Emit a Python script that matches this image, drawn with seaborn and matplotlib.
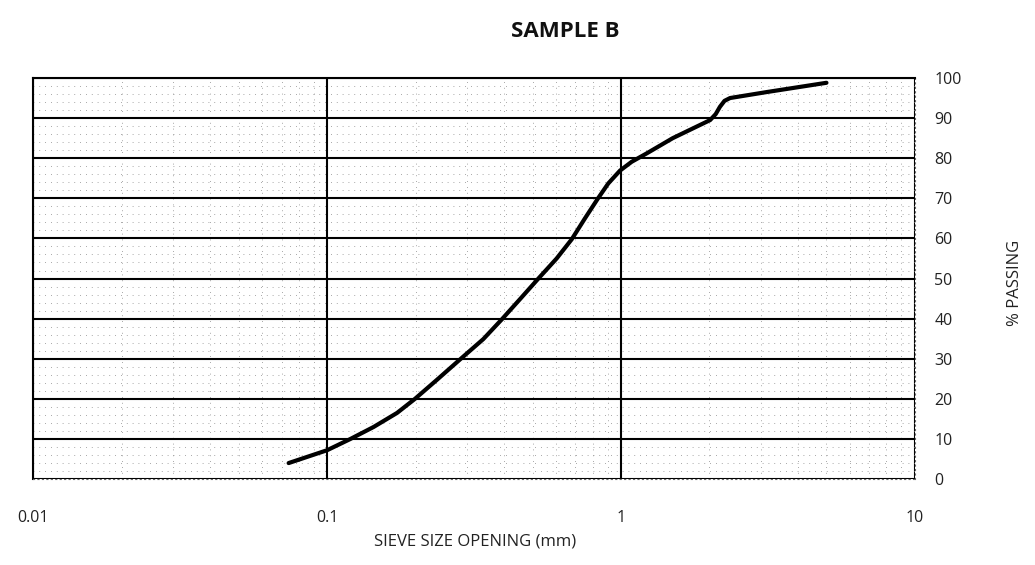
import numpy as np
import pandas as pd
import seaborn as sns
import matplotlib
matplotlib.use("Agg")
import matplotlib.pyplot as plt
from matplotlib.ticker import FixedLocator, LogLocator, NullFormatter, MultipleLocator

# values
sieve_mm = [0.074, 0.1, 0.12, 0.144, 0.173, 0.199, 0.236, 0.283, 0.34,
            0.394, 0.455, 0.522, 0.604, 0.68, 0.754, 0.831, 0.905, 0.992,
            1.087, 1.223, 1.5, 2.01, 2.1, 2.17, 2.25, 2.35, 3.14, 5.0]
passing = [4.0, 7.2, 10.0, 13.0, 16.5, 20.0, 24.7, 29.8, 34.9,
           39.9, 45.0, 49.9, 55.0, 59.8, 65.0, 69.75, 73.7, 76.9,
           79.1, 81.2, 85.0, 89.5, 91.0, 92.8, 94.3, 95.0, 96.5, 98.8]
x_ticks = [0.01, 0.1, 1, 10]
x_ticklabels = ["0.01", "0.1", "1", "10"]
y_ticks = list(range(0, 101, 10))

df = pd.DataFrame({"size": sieve_mm, "pass": passing})

sns.set_style("white")
plt.rcParams["font.family"] = ["Open Sans", "DejaVu Sans"]

fig = plt.figure(figsize=(10.35, 5.65), dpi=100)
ax = fig.add_axes([0.032, 0.152, 0.852, 0.71])

sns.lineplot(data=df, x="size", y="pass", sort=False, color="black",
             linewidth=3, ax=ax)

ax.set_xscale("log")
ax.set_xlim(0.01, 10)
ax.set_ylim(0, 100)
ax.xaxis.set_major_locator(FixedLocator(x_ticks))
ax.set_xticklabels(x_ticklabels)
ax.xaxis.set_minor_locator(LogLocator(base=10, subs=np.arange(2, 10)))
ax.xaxis.set_minor_formatter(NullFormatter())
ax.yaxis.set_major_locator(FixedLocator(y_ticks))
ax.yaxis.set_minor_locator(MultipleLocator(2))
ax.yaxis.tick_right()

ax.grid(which="major", color="black", linewidth=1.5, linestyle="-")
ax.grid(which="minor", color="#8a8a8a", linewidth=0.6, linestyle=(0, (1, 6)))
ax.tick_params(which="both", length=0, labelsize=11.5, colors="#222222")
ax.tick_params(axis="x", pad=22)
ax.tick_params(axis="y", pad=14)

for side in ["left", "top"]:
    ax.spines[side].set_color("black")
    ax.spines[side].set_linewidth(1.5)
ax.spines["right"].set_linestyle((0, (1, 3)))
ax.spines["right"].set_color("#666666")
ax.spines["bottom"].set_linestyle((0, (1, 3)))
ax.spines["bottom"].set_color("#666666")

ax.set_xlabel("")
ax.set_ylabel("")
fig.text(0.459, 0.042, "SIEVE SIZE OPENING (mm)", ha="center", va="center",
         fontsize=12, color="#222222")
fig.text(0.981, 0.5, "% PASSING", ha="center", va="center", rotation=90,
         fontsize=12, color="#222222")
fig.text(0.546, 0.945, "SAMPLE B", ha="center", va="center",
         fontsize=16, fontweight="bold", color="#111111")

fig.savefig("out.png", dpi=100)
